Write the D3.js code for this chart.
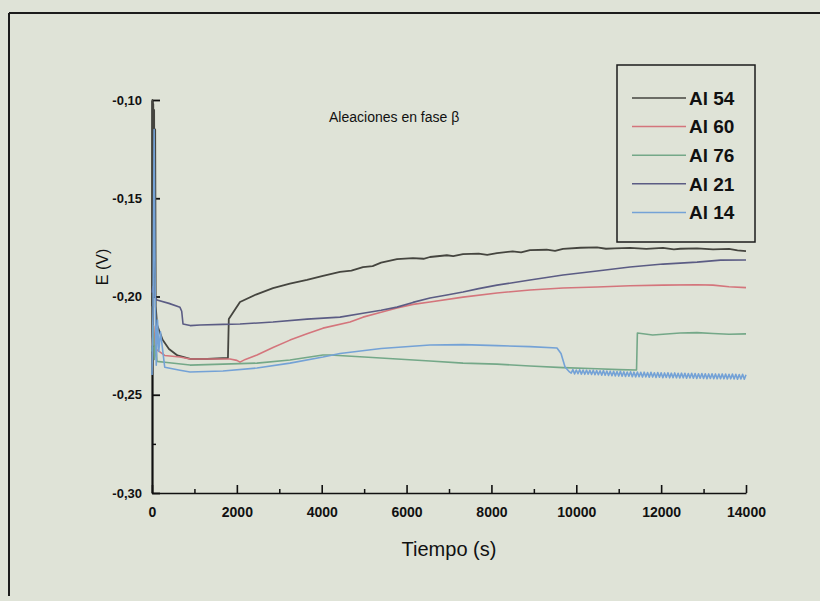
<!DOCTYPE html>
<html lang="es">
    <head>
        <meta charset="utf-8">
        <title>Aleaciones en fase beta</title>
        <script src="https://d3js.org/d3.v7.min.js"></script>
        <style>
            body { margin: 0; background-color: #dfe3d7; }
            svg { display: block; font-family: "Liberation Sans", Arial, sans-serif; }
            .tick text { font-weight: bold; font-size: 14px; fill: #111; }
            .domain, .tick line { stroke: #111; }
        </style>
    </head>
    <body>
        <svg id="chart" width="820" height="601"></svg>
        <script>
            // series names (legend order)
            const seriesNames = ["Al 54", "Al 60", "Al 76", "Al 21", "Al 14"];

            // [tiempo (s), E (V)]
            const al54 = [[0,-0.205],[10,-0.100],[20,-0.195],[30,-0.102],[40,-0.200],[50,-0.105],[62,-0.190],[75,-0.115],
                [88,-0.205],[120,-0.2145],[250,-0.2220],
                [400,-0.2267],[600,-0.2300],[900,-0.2318],[1300,-0.2318],[1790,-0.2313],[1810,-0.2115],[2074,-0.2028],
                [2450,-0.1990],[2852,-0.1957],[3250,-0.1935],[3653,-0.1916],[4030,-0.1895],[4431,-0.1875],[4700,-0.1868],
                [4973,-0.1850],[5200,-0.1845],[5400,-0.1828],[5775,-0.1810],[6150,-0.1805],[6400,-0.1808],[6552,-0.1799],
                [6950,-0.1790],[7100,-0.1794],[7330,-0.1784],[7700,-0.1782],[7900,-0.1788],[8131,-0.1779],[8500,-0.1770],
                [8700,-0.1775],[8909,-0.1764],[9300,-0.1762],[9500,-0.1768],[9687,-0.1758],[10100,-0.1752],[10489,-0.1750],
                [10700,-0.1757],[10900,-0.1755],[11267,-0.1753],[11650,-0.1758],[12045,-0.1753],[12300,-0.1760],
                [12450,-0.1757],[12846,-0.1755],[13223,-0.1760],[13600,-0.1758],[13800,-0.1765],[14000,-0.1769]];

            const al60 = [[0,-0.225],[40,-0.215],[80,-0.228],[118,-0.2272],[300,-0.2300],[660,-0.2308],[896,-0.2318],
                [1300,-0.2318],[1838,-0.2318],[2000,-0.2325],[2074,-0.2334],[2200,-0.2320],[2475,-0.2298],[2852,-0.2260],
                [3252,-0.2222],[3653,-0.2190],[4030,-0.2161],[4667,-0.2130],[4973,-0.2105],[5400,-0.2080],[5775,-0.2059],
                [6150,-0.2040],[6552,-0.2028],[7330,-0.2003],[8131,-0.1982],[8909,-0.1967],[9687,-0.1957],[10489,-0.1952],
                [11267,-0.1945],[12045,-0.1942],[12846,-0.1940],[13223,-0.1942],[13600,-0.1950],[14000,-0.1955]];

            const al76 = [[0,-0.228],[30,-0.215],[60,-0.232],[90,-0.225],[118,-0.2330],[300,-0.2335],[896,-0.2349],
                [1673,-0.2344],[2475,-0.2339],[3252,-0.2323],[4030,-0.2298],[4195,-0.2298],[5000,-0.2308],[5775,-0.2318],
                [6552,-0.2328],[7330,-0.2339],[8131,-0.2344],[8909,-0.2354],[9687,-0.2362],[10489,-0.2368],[11000,-0.2372],
                [11420,-0.2374],[11440,-0.2186],[11800,-0.2196],[12045,-0.2192],[12450,-0.2186],[12846,-0.2184],
                [13223,-0.2188],[13600,-0.2192],[14000,-0.2190]];

            const al21 = [[0,-0.198],[20,-0.195],[60,-0.200],[118,-0.2018],[400,-0.2035],[660,-0.2055],[700,-0.2075],
                [731,-0.2140],[900,-0.2148],[1131,-0.2145],[1673,-0.2142],[2074,-0.2140],[2852,-0.2130],[3653,-0.2115],
                [4431,-0.2105],[4973,-0.2085],[5400,-0.2070],[5775,-0.2054],[6150,-0.2030],[6552,-0.2008],[6950,-0.1992],
                [7330,-0.1977],[7700,-0.1960],[8131,-0.1942],[8500,-0.1930],[8909,-0.1916],[9300,-0.1903],[9687,-0.1891],
                [10489,-0.1870],[11267,-0.1850],[12045,-0.1835],[12846,-0.1825],[13400,-0.1815],[14000,-0.1814]];

            const al14 = [[0,-0.240],[25,-0.205],[50,-0.115],[75,-0.200],[100,-0.235],[130,-0.212],[160,-0.228],
                [200,-0.218],[300,-0.2360],[660,-0.2375],[896,-0.2384],[1673,-0.2379],[2475,-0.2364],[3252,-0.2339],
                [4030,-0.2308],[4431,-0.2290],[5400,-0.2265],[6552,-0.2247],[7330,-0.2245],[8131,-0.2250],[8909,-0.2255],
                [9545,-0.2262],[9640,-0.2290],[9735,-0.2359],[9840,-0.2384],
                [9880,-0.2390],[9920,-0.2372],[9960,-0.2394],[10000,-0.2374],[10040,-0.2393],[10080,-0.2373],
                [10120,-0.2395],[10160,-0.2374],[10200,-0.2396],[10240,-0.2375],[10280,-0.2395],[10320,-0.2376],
                [10360,-0.2397],[10400,-0.2375],[10440,-0.2398],[10480,-0.2377],[10520,-0.2398],[10560,-0.2378],
                [10600,-0.2400],[10640,-0.2377],[10680,-0.2401],[10720,-0.2379],[10760,-0.2402],[10800,-0.2380],
                [10840,-0.2403],[10880,-0.2381],[10920,-0.2404],[10960,-0.2382],[11000,-0.2405],[11040,-0.2381],
                [11080,-0.2406],[11120,-0.2383],[11160,-0.2407],[11200,-0.2384],[11240,-0.2406],[11280,-0.2383],
                [11320,-0.2408],[11360,-0.2385],[11400,-0.2409],[11440,-0.2384],[11480,-0.2408],[11520,-0.2386],
                [11560,-0.2410],[11600,-0.2385],[11640,-0.2409],[11680,-0.2387],[11720,-0.2411],[11760,-0.2386],
                [11800,-0.2410],[11840,-0.2388],[11880,-0.2412],[11920,-0.2387],[11960,-0.2411],[12000,-0.2388],
                [12040,-0.2413],[12080,-0.2389],[12120,-0.2412],[12160,-0.2388],[12200,-0.2414],[12240,-0.2390],
                [12280,-0.2413],[12320,-0.2389],[12360,-0.2414],[12400,-0.2391],[12440,-0.2415],[12480,-0.2390],
                [12520,-0.2414],[12560,-0.2391],[12600,-0.2416],[12640,-0.2392],[12680,-0.2415],[12720,-0.2391],
                [12760,-0.2416],[12800,-0.2392],[12840,-0.2417],[12880,-0.2393],[12920,-0.2416],[12960,-0.2392],
                [13000,-0.2417],[13040,-0.2393],[13080,-0.2418],[13120,-0.2394],[13160,-0.2417],[13200,-0.2393],
                [13240,-0.2418],[13280,-0.2394],[13320,-0.2419],[13360,-0.2395],[13400,-0.2418],[13440,-0.2394],
                [13480,-0.2419],[13520,-0.2395],[13560,-0.2420],[13600,-0.2396],[13640,-0.2419],[13680,-0.2395],
                [13720,-0.2420],[13760,-0.2396],[13800,-0.2421],[13840,-0.2397],[13880,-0.2420],[13920,-0.2396],
                [13960,-0.2421],[14000,-0.2398]];

            // tick labels
            const xTicks = [0, 2000, 4000, 6000, 8000, 10000, 12000, 14000];
            const xMinorTicks = [1000, 3000, 5000, 7000, 9000, 11000, 13000];
            const yTicks = [-0.10, -0.15, -0.20, -0.25, -0.30];
            const yMinorTicks = [-0.125, -0.175, -0.225, -0.275];

            const seriesData = [al54, al60, al76, al21, al14];
            const colors = ["#45453f", "#d4757c", "#74a888", "#5b5c84", "#74a2d6"];

            const svg = d3.select("#chart");

            // scan frame
            svg.append("line").attr("x1", 9).attr("y1", 13).attr("x2", 820).attr("y2", 13)
                .attr("stroke", "#1c1c1c").attr("stroke-width", 2);
            svg.append("line").attr("x1", 9).attr("y1", 13).attr("x2", 9).attr("y2", 596)
                .attr("stroke", "#1c1c1c").attr("stroke-width", 2);

            //scales
            const xScale = d3.scaleLinear().domain([0, 14000]).range([152, 746]);
            const yScale = d3.scaleLinear().domain([-0.30, -0.10]).range([493, 100]);

            const fmt = d => d.toFixed(2).replace(".", ",");

            //axes (ticks point inward)
            svg.append("g")
                .attr("transform", "translate(0,493)")
                .call(d3.axisBottom(xScale).tickValues(xMinorTicks).tickSizeInner(-4).tickSizeOuter(0).tickFormat(""))
                .call(g => g.select(".domain").remove())
                .selectAll("line").attr("stroke-width", 1.5);

            svg.append("g")
                .attr("transform", "translate(152,0)")
                .call(d3.axisLeft(yScale).tickValues(yMinorTicks).tickSizeInner(-4).tickSizeOuter(0).tickFormat(""))
                .call(g => g.select(".domain").remove())
                .selectAll("line").attr("stroke-width", 1.5);

            const xAxis = svg.append("g")
                .attr("transform", "translate(0,493)")
                .call(d3.axisBottom(xScale).tickValues(xTicks).tickSizeInner(-8).tickSizeOuter(0).tickPadding(14)
                    .tickFormat(d3.format("d")));
            xAxis.select(".domain").attr("stroke-width", 1.6);
            xAxis.selectAll(".tick line").attr("stroke-width", 1.6);

            const yAxis = svg.append("g")
                .attr("transform", "translate(152,0)")
                .call(d3.axisLeft(yScale).tickValues(yTicks).tickSizeInner(-8).tickSizeOuter(0).tickPadding(10)
                    .tickFormat(fmt));
            yAxis.select(".domain").attr("stroke-width", 2.2);
            yAxis.selectAll(".tick line").attr("stroke-width", 1.8);
            yAxis.selectAll(".tick text").style("font-size", "13px");

            //lines
            const line = d3.line().x(d => xScale(d[0])).y(d => yScale(d[1]));

            svg.selectAll(".serie")
                .data(seriesData)
                .join("path")
                .attr("class", "serie")
                .attr("fill", "none")
                .attr("stroke", (d, i) => colors[i])
                .attr("stroke-width", (d, i) => i === 0 ? 1.8 : 1.6)
                .attr("stroke-linejoin", "round")
                .attr("d", line);

            //labels
            svg.append("text")
                .attr("x", 449).attr("y", 556)
                .attr("text-anchor", "middle")
                .style("font-size", "20px")
                .attr("fill", "#111")
                .text("Tiempo (s)");

            svg.append("text")
                .attr("transform", "translate(108,267) rotate(-90)")
                .attr("text-anchor", "middle")
                .style("font-size", "16px")
                .attr("fill", "#111")
                .text("E (V)");

            svg.append("text")
                .attr("x", 329).attr("y", 122)
                .style("font-size", "14px")
                .attr("fill", "#111")
                .text("Aleaciones en fase β");

            //legend
            svg.append("rect")
                .attr("x", 617).attr("y", 65).attr("width", 138).attr("height", 177)
                .attr("fill", "none").attr("stroke", "#1c1c1c").attr("stroke-width", 1.5);

            const legend = svg.selectAll(".leg")
                .data(seriesNames)
                .join("g")
                .attr("class", "leg")
                .attr("transform", (d, i) => `translate(0,${98 + i * 28.6})`);

            legend.append("line")
                .attr("x1", 632).attr("x2", 686)
                .attr("stroke", (d, i) => colors[i])
                .attr("stroke-width", 1.5);

            legend.append("text")
                .attr("x", 689).attr("dy", "0.36em")
                .style("font-size", "19px")
                .style("font-weight", "bold")
                .attr("fill", "#111")
                .text(d => d);
        </script>
    </body>
</html>
